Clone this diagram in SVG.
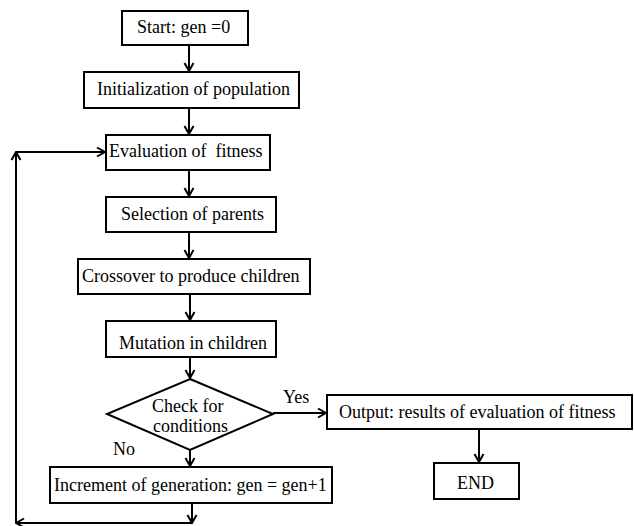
<svg xmlns="http://www.w3.org/2000/svg" width="634" height="526" viewBox="0 0 634 526">
  <style>
    .box { fill: #fff; stroke: #000; stroke-width: 2; }
    .lbl { font-family: "Liberation Serif", "Times New Roman", serif; font-size: 18px; fill: #000; white-space: pre; }
    .edge { fill: none; stroke: #000; stroke-width: 2; }
  </style>
  <defs>
    <marker id="arrow" viewBox="0 0 12 12" refX="11" refY="6" markerWidth="12" markerHeight="12" markerUnits="userSpaceOnUse" orient="auto">
      <path d="M3,1.5 L11,6 L3,10.5" fill="none" stroke="#000" stroke-width="2"/>
    </marker>
  </defs>

  <rect width="634" height="526" fill="#fff"/>

  <g id="connectors">
    <line class="edge" x1="189" y1="45" x2="189" y2="71" marker-end="url(#arrow)"/>
    <line class="edge" x1="189" y1="108" x2="189" y2="134" marker-end="url(#arrow)"/>
    <line class="edge" x1="189" y1="170" x2="189" y2="196" marker-end="url(#arrow)"/>
    <line class="edge" x1="189" y1="232" x2="189" y2="258" marker-end="url(#arrow)"/>
    <line class="edge" x1="190" y1="294" x2="190" y2="320" marker-end="url(#arrow)"/>
    <line class="edge" x1="190" y1="357" x2="190" y2="378" marker-end="url(#arrow)"/>
    <line class="edge" x1="190" y1="450" x2="190" y2="466" marker-end="url(#arrow)"/>
    <line class="edge" x1="273" y1="413" x2="326" y2="413" marker-end="url(#arrow)"/>
    <line class="edge" x1="479" y1="429" x2="479" y2="462" marker-end="url(#arrow)"/>
    <!-- feedback loop back to fitness evaluation -->
    <line class="edge" x1="192" y1="503" x2="192" y2="523" marker-end="url(#arrow)"/>
    <line class="edge" x1="192" y1="523" x2="16" y2="523" marker-end="url(#arrow)"/>
    <line class="edge" x1="16" y1="523" x2="16" y2="152" marker-end="url(#arrow)"/>
    <line class="edge" x1="16" y1="152" x2="105" y2="152" marker-end="url(#arrow)"/>
    <text class="lbl" x="283" y="403">Yes</text>
    <text class="lbl" x="113" y="455">No</text>
  </g>

  <g id="start">
    <rect class="box" x="122" y="11" width="126" height="34"/>
    <text class="lbl" x="137" y="33">Start: gen =0</text>
  </g>
  <g id="init">
    <rect class="box" x="84" y="72" width="215" height="36"/>
    <text class="lbl" x="97" y="95">Initialization of population</text>
  </g>
  <g id="evaluate">
    <rect class="box" x="106" y="135" width="164" height="35"/>
    <text class="lbl" x="109" y="157">Evaluation of  fitness</text>
  </g>
  <g id="selection">
    <rect class="box" x="106" y="197" width="170" height="35"/>
    <text class="lbl" x="121" y="220">Selection of parents</text>
  </g>
  <g id="crossover">
    <rect class="box" x="78" y="259" width="232" height="35"/>
    <text class="lbl" x="82" y="282">Crossover to produce children</text>
  </g>
  <g id="mutation">
    <rect class="box" x="106" y="321" width="170" height="36"/>
    <text class="lbl" x="119" y="349">Mutation in children</text>
  </g>
  <g id="check">
    <polygon class="box" points="190,379 273,414 190,450 107,414"/>
    <text class="lbl" x="152" y="412">Check for</text>
    <text class="lbl" x="153" y="432">conditions</text>
  </g>
  <g id="increment">
    <rect class="box" x="50" y="467" width="282" height="36"/>
    <text class="lbl" x="54" y="491">Increment of generation: gen = gen+1</text>
  </g>
  <g id="output">
    <rect class="box" x="327" y="395" width="305" height="34"/>
    <text class="lbl" x="339" y="418">Output: results of evaluation of fitness</text>
  </g>
  <g id="end">
    <rect class="box" x="434" y="463" width="85" height="36"/>
    <text class="lbl" x="457" y="489">END</text>
  </g>
</svg>
